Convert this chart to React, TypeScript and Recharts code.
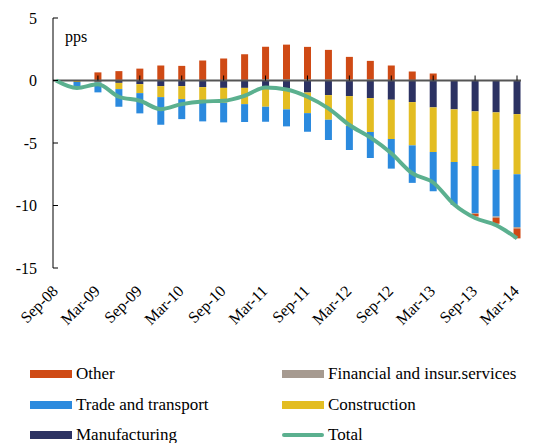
import { ComposedChart, Bar, Line, XAxis, YAxis, ReferenceLine } from "recharts"

const quarters = [
    "Sep-08", "Dec-08", "Mar-09", "Jun-09", "Sep-09", "Dec-09", "Mar-10", "Jun-10",
    "Sep-10", "Dec-10", "Mar-11", "Jun-11", "Sep-11", "Dec-11", "Mar-12", "Jun-12",
    "Sep-12", "Dec-12", "Mar-13", "Jun-13", "Sep-13", "Dec-13", "Mar-14",
]

const manufacturing = [0, -0.02, -0.1, -0.19, -0.29, -0.45, -0.45, -0.53, -0.59, -0.59, -0.45, -0.64, -0.96, -1.17, -1.25, -1.41, -1.54, -1.73, -2.15, -2.31, -2.47, -2.55, -2.69]
const construction = [0, -0.1, -0.05, -0.5, -0.72, -0.88, -1.04, -1.2, -1.19, -1.3, -1.65, -1.67, -1.65, -1.97, -2.39, -2.71, -3.14, -3.46, -3.57, -4.21, -4.37, -4.58, -4.81]
const trade = [0, -0.33, -0.8, -1.41, -1.62, -2.21, -1.6, -1.54, -1.57, -1.43, -1.2, -1.36, -1.49, -1.62, -1.92, -2.08, -2.37, -3.0, -3.14, -3.43, -3.77, -3.75, -4.23]
const financial = [0, 0, 0.05, 0.05, 0.05, 0.05, 0.05, 0.05, 0.05, 0.05, 0.1, 0.1, 0.1, 0.1, 0.1, 0.1, 0.05, 0.05, 0.03, 0, -0.05, -0.1, -0.11]
const other = [0, 0, 0.6, 0.7, 0.9, 1.15, 1.12, 1.55, 1.71, 2.05, 2.6, 2.77, 2.59, 2.35, 1.79, 1.47, 1.15, 0.67, 0.53, 0, -0.22, -0.48, -0.79]
const total = [0, -0.6, -0.3, -1.3, -1.62, -2.29, -1.89, -1.68, -1.62, -1.22, -0.56, -0.72, -1.3, -2.23, -3.56, -4.55, -5.82, -7.42, -8.16, -9.92, -11.0, -11.57, -12.63]

const yTicks = [-15, -10, -5, 0, 5]

const data = quarters.map((q, i) => ({
    i,
    q,
    manufacturing: manufacturing[i],
    construction: construction[i],
    trade: trade[i],
    financial: financial[i],
    other: other[i],
    total: total[i],
}))

const labelTicks = quarters.map((_, i) => i).filter((i) => i % 2 === 0)

const colors = {
    other: "#cf4a15",
    financial: "#a69a90",
    trade: "#2b8ade",
    construction: "#e3bd22",
    manufacturing: "#2c3262",
    total: "#5bb08f",
}

const font = '"Liberation Serif", "Times New Roman", serif'

function XTick(props: any) {
    const { x, y, payload } = props
    const tx = x + 3
    const ty = y + 16
    return (
        <text x={tx} y={ty} transform={`rotate(-45, ${tx}, ${ty})`} textAnchor="end"
            fontFamily={font} fontSize={16} fill="#000">
            {quarters[payload.value]}
        </text>
    )
}

const legendItems = [
    { name: "Other", color: colors.other, line: false },
    { name: "Financial and insur.services", color: colors.financial, line: false },
    { name: "Trade and transport", color: colors.trade, line: false },
    { name: "Construction", color: colors.construction, line: false },
    { name: "Manufacturing", color: colors.manufacturing, line: false },
    { name: "Total", color: colors.total, line: true },
]

export default function App() {
    return (
        <div style={{ position: "absolute", left: 0, top: 0, width: 539, height: 443, background: "#fff", overflow: "hidden", fontFamily: font }}>
            <ComposedChart
                width={539}
                height={350}
                data={data}
                stackOffset="sign"
                margin={{ top: 18, right: 18, bottom: 32, left: 0 }}
            >
                <XAxis
                    dataKey="i"
                    type="number"
                    domain={[0, 22]}
                    ticks={labelTicks}
                    interval={0}
                    padding={{ left: 3, right: 4 }}
                    axisLine={false}
                    tickLine={false}
                    height={50}
                    tick={<XTick />}
                />
                <YAxis
                    domain={[-15, 5]}
                    ticks={yTicks}
                    interval={0}
                    width={53}
                    axisLine={{ stroke: "#000", strokeWidth: 1 }}
                    tickLine={{ stroke: "#000", transform: "translate(5,0)" }}
                    tickSize={5}
                    tickMargin={11}
                    tick={{ fontFamily: font, fontSize: 16, fill: "#000" }}
                />
                <Bar dataKey="manufacturing" stackId="a" fill={colors.manufacturing} barSize={7} isAnimationActive={false} />
                <Bar dataKey="construction" stackId="a" fill={colors.construction} barSize={7} isAnimationActive={false} />
                <Bar dataKey="trade" stackId="a" fill={colors.trade} barSize={7} isAnimationActive={false} />
                <Bar dataKey="financial" stackId="a" fill={colors.financial} barSize={7} isAnimationActive={false} />
                <Bar dataKey="other" stackId="a" fill={colors.other} barSize={7} isAnimationActive={false} />
                <ReferenceLine y={0} stroke="#555" strokeWidth={2} />
                {labelTicks.slice(1).map((t) => (
                    <ReferenceLine key={t} segment={[{ x: t, y: 0 }, { x: t, y: 0.4 }]} stroke="#000" strokeWidth={1} />
                ))}
                <Line dataKey="total" type="monotone" stroke={colors.total} strokeWidth={4} dot={false} isAnimationActive={false} />
            </ComposedChart>
            <div style={{ position: "absolute", left: 65, top: 28, fontSize: 16, color: "#000" }}>pps</div>
            {legendItems.map((it, k) => {
                const col = k % 2
                const row = Math.floor(k / 2)
                const left = col === 0 ? 30 : 282
                const top = 374 + row * 30.5
                return (
                    <div key={it.name} style={{ position: "absolute", left, top: top - 10, height: 20, display: "flex", alignItems: "center", fontSize: 17, color: "#000", whiteSpace: "nowrap" }}>
                        <span style={{
                            display: "inline-block",
                            width: 42,
                            height: it.line ? 4 : 8,
                            borderRadius: it.line ? 2 : 0,
                            background: it.color,
                            marginRight: 4,
                        }} />
                        {it.name}
                    </div>
                )
            })}
        </div>
    )
}
